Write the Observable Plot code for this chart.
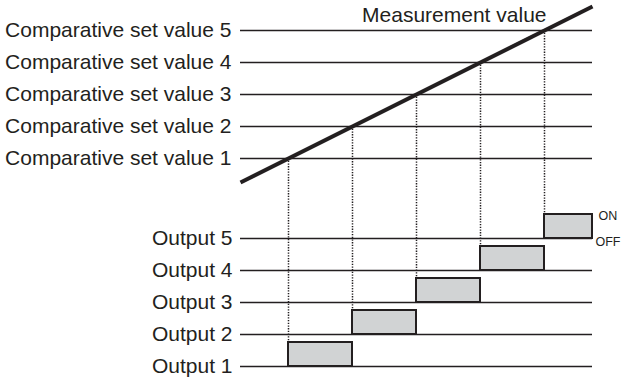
<!DOCTYPE html>
<html>
<head>
<meta charset="utf-8">
<script src="https://cdn.jsdelivr.net/npm/d3@7"></script>
<script src="https://cdn.jsdelivr.net/npm/@observablehq/plot@0.6"></script>
<style>
  html, body { margin: 0; padding: 0; background: #fff; }
  #chart { width: 632px; height: 380px; }
</style>
</head>
<body>
<div id="chart"></div>
<script>
// ---- Data ----
const setLevels = [1, 2, 3, 4, 5];
const setLabels = [
  "Comparative set value 1",
  "Comparative set value 2",
  "Comparative set value 3",
  "Comparative set value 4",
  "Comparative set value 5"
];
const outputLevels = [1, 2, 3, 4, 5];
const outputLabels = ["Output 1", "Output 2", "Output 3", "Output 4", "Output 5"];
// time at which the measurement crosses each set value (output turns ON) and turns OFF
const onStart = [1, 2, 3, 4, 5];
const onEnd = [2, 3, 4, 5, 5.75];
// measurement value rising linearly over time
const measurementTime = [0.25, 5.75];
const measurementValue = [0.25, 5.75];
const timeStart = 0.25;
const timeEnd = 5.75;
const onHeight = 0.75;        // height of the ON state (in level units)
const upperOffset = 6.5;      // vertical offset of the comparative-set panel
const stateLabels = ["ON", "OFF"];
const titleLabel = "Measurement value";

const ink = "#231f20";
const font = "'Liberation Sans', Arial, Helvetica, sans-serif";

const measurement = measurementTime.map((t, i) => ({t, v: measurementValue[i]}));

const chart = Plot.plot({
  width: 632,
  height: 380,
  margin: 0,
  x: {type: "linear", domain: [1, 5], range: [288, 544], axis: null},
  y: {type: "linear", domain: [1, 5], range: [366, 238], axis: null},
  style: {fontFamily: font, color: ink, background: "#fff", overflow: "visible"},
  marks: [
    // comparative set value lines
    Plot.ruleY(setLevels, {y: d => d + upperOffset, x1: () => timeStart, x2: () => timeEnd, stroke: ink, strokeWidth: 1.6}),
    // output baselines
    Plot.ruleY(outputLevels, {y: d => d, x1: () => timeStart, x2: () => timeEnd, stroke: ink, strokeWidth: 1.6}),
    // dotted guides from crossing points down to outputs
    Plot.ruleX(setLevels, {x: d => d, y1: d => d + upperOffset, y2: (d, i) => outputLevels[i] + onHeight, stroke: ink, strokeWidth: 1.5, strokeDasharray: "1.3,1.4"}),
    // ON states
    Plot.rect(outputLevels, {x1: (d, i) => onStart[i], x2: (d, i) => onEnd[i], y1: d => d, y2: d => d + onHeight, fill: "#d1d3d4", stroke: ink, strokeWidth: 2}),
    // measurement value line
    Plot.line(measurement, {x: "t", y: d => d.v + upperOffset, stroke: ink, strokeWidth: 4, strokeLinecap: "butt"}),
    // labels
    Plot.text(setLevels, {x: () => timeStart, y: d => d + upperOffset, text: (d, i) => setLabels[i], textAnchor: "end", dx: -9, fontSize: 21, fill: ink}),
    Plot.text(outputLevels, {x: () => timeStart, y: d => d, text: (d, i) => outputLabels[i], textAnchor: "end", dx: -8, fontSize: 21, fill: ink}),
    Plot.text([titleLabel], {x: () => onStart[4], y: () => setLevels[4] + upperOffset, text: d => d, textAnchor: "end", lineAnchor: "middle", dx: 2, dy: -15.5, fontSize: 21, fill: ink}),
    Plot.text([stateLabels[0]], {x: () => onEnd[4], y: () => outputLevels[4] + onHeight, text: d => d, textAnchor: "start", dx: 6, dy: 1, fontSize: 12.5, fill: ink}),
    Plot.text([stateLabels[1]], {x: () => onEnd[4], y: () => outputLevels[4], text: d => d, textAnchor: "start", dx: 3, dy: 3, fontSize: 12.5, fill: ink})
  ]
});
document.getElementById("chart").appendChild(chart);
</script>
</body>
</html>
